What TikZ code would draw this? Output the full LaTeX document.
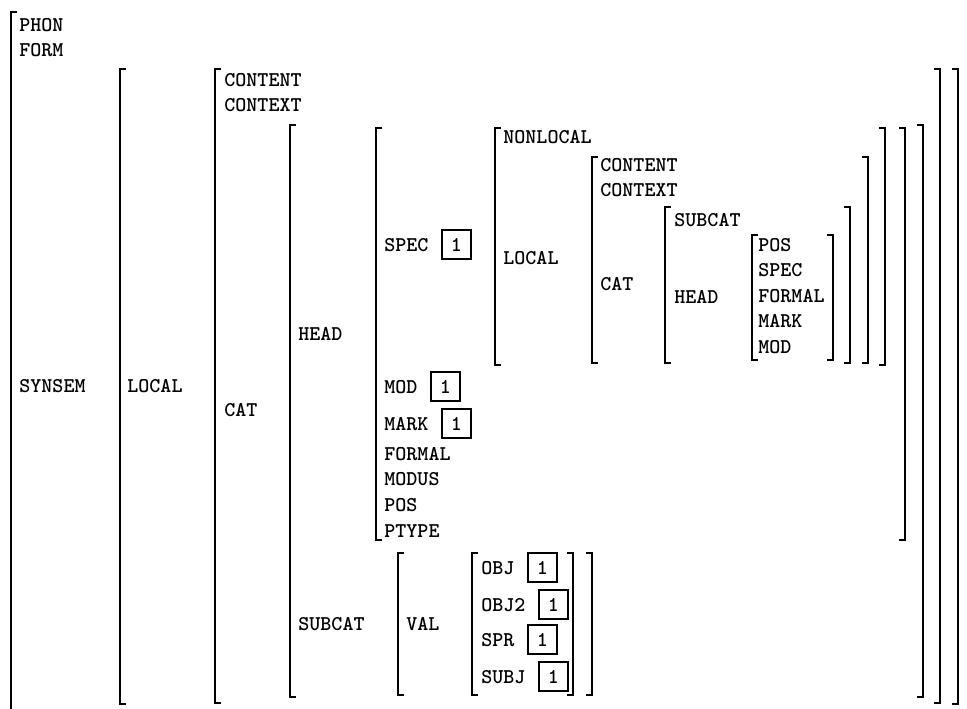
\documentclass[tikz,border=0pt]{standalone}
\usetikzlibrary{positioning}
\tikzset{
	attr/.style={anchor=base west, inner sep=0pt,
		font=\ttfamily\bfseries\fontsize{10.5}{12}\selectfont},
	tag/.style={draw, line width=1pt, minimum size=14.5pt, inner sep=0pt,
		font=\ttfamily\bfseries\fontsize{10.5}{12}\selectfont},
	brk/.style={line width=1.3pt, line join=miter},
}
% one pair of AVM brackets: left x, right x, top y, bottom y
\newcommand{\bracketpair}[4]{%
	\draw[brk] (#1+6,#3) -- (#1,#3) -- (#1,#4) -- (#1+6,#4);
	\draw[brk] (#2-6,#3) -- (#2,#3) -- (#2,#4) -- (#2-6,#4);}

\begin{document}
\begin{tikzpicture}[x=0.5pt, y=-0.5pt]
	\useasboundingbox (0,0) rectangle (967,708);
	
	% outer level
	\draw[brk] (17,12) -- (11,12) -- (11,716);
	\node[attr] (phon) at (19,31) {PHON};
	\node[attr] (form) at (19,56) {FORM};
	\node[attr] (synsem) at (19,392) {SYNSEM};
	
	% synsem value
	\bracketpair{120}{958}{69}{704}
	\node[attr] (local) at (127,392) {LOCAL};
	
	% local value
	\bracketpair{215}{940}{69}{703}
	\node[attr] (content) at (224,86) {CONTENT};
	\node[attr] (context) at (224,111) {CONTEXT};
	\node[attr] (cat) at (224,416) {CAT};
	
	% cat value
	\bracketpair{290}{923}{125}{697}
	\node[attr] (head) at (298,340) {HEAD};
	\node[attr] (subcat) at (298,630) {SUBCAT};
	
	% head value
	\bracketpair{376}{905}{128}{540}
	\node[attr] (spec) at (384,251) {SPEC};
	\node[tag, right=6pt of spec] (specTag) {1};
	\node[attr] (mod) at (384,393) {MOD};
	\node[tag, right=6pt of mod] (modTag) {1};
	\node[attr] (mark) at (384,430) {MARK};
	\node[tag, right=6pt of mark] (markTag) {1};
	\node[attr] (formal) at (384,460) {FORMAL};
	\node[attr] (modus) at (384,485) {MODUS};
	\node[attr] (pos) at (384,511) {POS};
	\node[attr] (ptype) at (384,537) {PTYPE};
	
	% spec value
	\bracketpair{495}{885}{128}{365}
	\node[attr] (specNonlocal) at (503,143) {NONLOCAL};
	\node[attr] (specLocal) at (503,264) {LOCAL};
	
	\bracketpair{592}{868}{157}{363}
	\node[attr] (specContent) at (600,171) {CONTENT};
	\node[attr] (specContext) at (600,196) {CONTEXT};
	\node[attr] (specCat) at (600,290) {CAT};
	
	\bracketpair{665}{850}{207}{363}
	\node[attr] (specSubcat) at (674,226) {SUBCAT};
	\node[attr] (specHead) at (674,303) {HEAD};
	
	\bracketpair{752}{833}{235}{360}
	\node[attr] (specPos) at (758,251) {POS};
	\node[attr] (specSpec) at (758,276) {SPEC};
	\node[attr] (specFormal) at (758,302) {FORMAL};
	\node[attr] (specMark) at (758,327) {MARK};
	\node[attr] (specMod) at (758,353) {MOD};
	
	% subcat value
	\bracketpair{398}{592}{553}{695}
	\node[attr] (val) at (406,630) {VAL};
	
	\bracketpair{472}{573}{553}{695}
	\node[attr] (obj) at (481,574) {OBJ};
	\node[tag, right=6pt of obj] (objTag) {1};
	\node[attr] (objii) at (481,611) {OBJ2};
	\node[tag, right=6pt of objii] (objiiTag) {1};
	\node[attr] (spr) at (481,646) {SPR};
	\node[tag, right=6pt of spr] (sprTag) {1};
	\node[attr] (subj) at (481,683) {SUBJ};
	\node[tag, right=6pt of subj] (subjTag) {1};
\end{tikzpicture}
\end{document}
